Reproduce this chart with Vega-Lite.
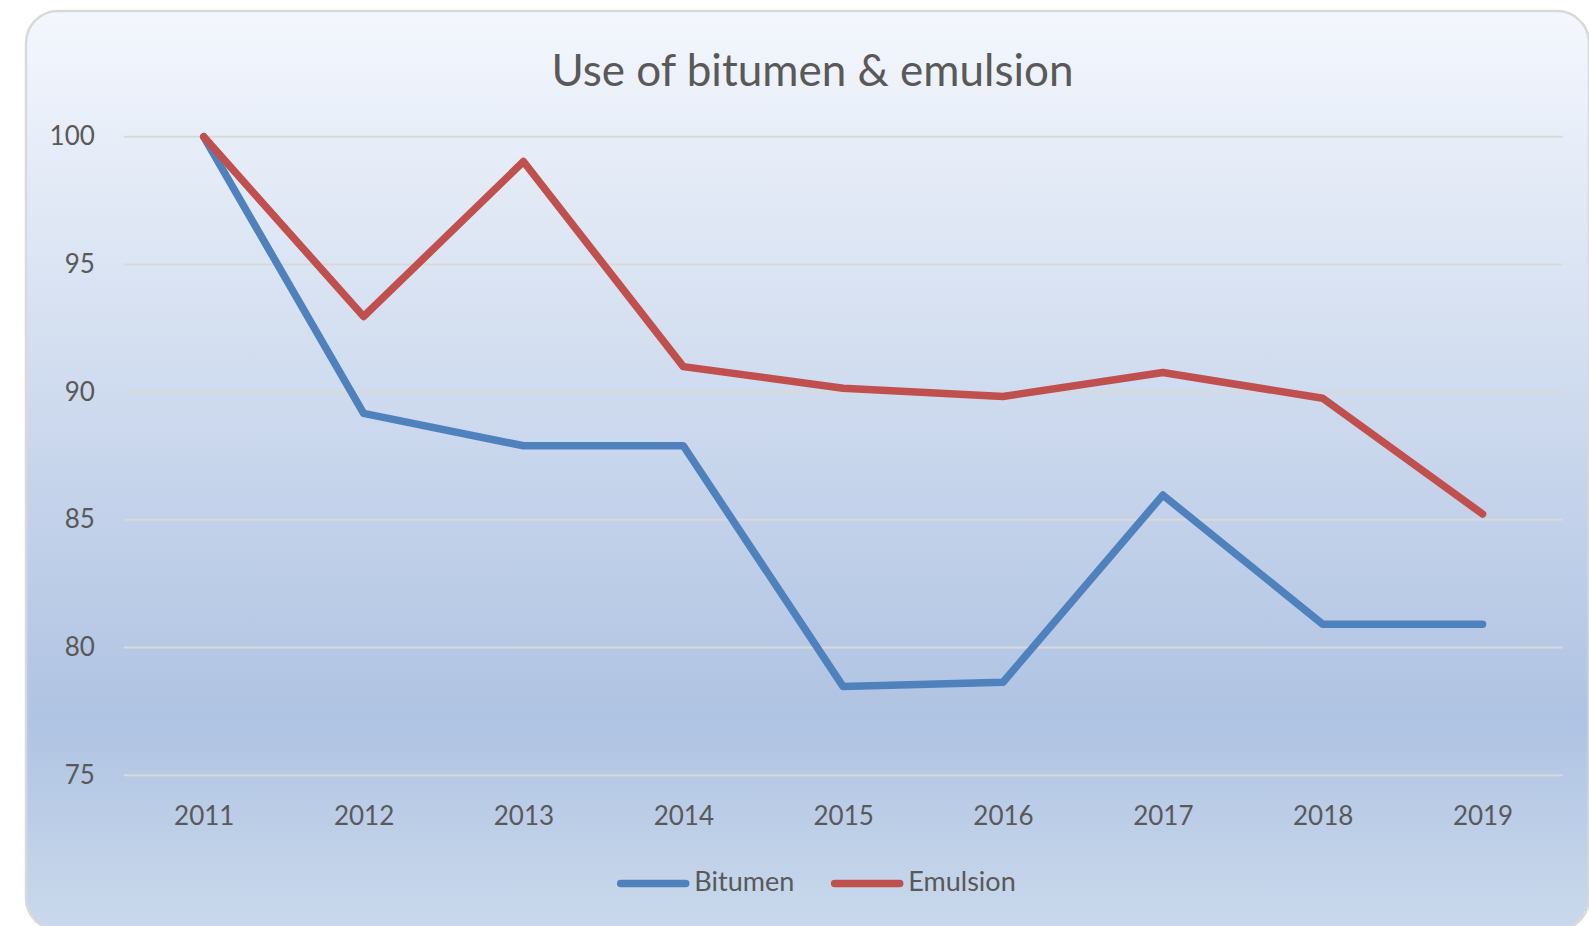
{
  "$schema": "https://vega.github.io/schema/vega-lite/v6.json",
  "width": 1563,
  "height": 919,
  "autosize": "none",
  "padding": {"left": 26, "top": 11, "right": 0, "bottom": 0},
  "background": "white",
  "config": {"view": {"stroke": null}, "font": "Lato", "axis": {"zindex": 1}},
  "title": {
    "text": "Use of bitumen & emulsion",
    "font": "Lato",
    "fontSize": 44,
    "fontWeight": "normal",
    "color": "#595959",
    "anchor": "middle",
    "frame": "group",
    "baseline": "alphabetic",
    "offset": -120,
    "dx": 5
  },
  "datasets": {
    "grid": [
      {"value": 75}, {"value": 80}, {"value": 85}, {"value": 90}, {"value": 95}, {"value": 100}
    ],
    "series": [
      {"year": 2011, "value": 100, "series": "Bitumen"},
      {"year": 2012, "value": 89.17, "series": "Bitumen"},
      {"year": 2013, "value": 87.9, "series": "Bitumen"},
      {"year": 2014, "value": 87.9, "series": "Bitumen"},
      {"year": 2015, "value": 78.47, "series": "Bitumen"},
      {"year": 2016, "value": 78.64, "series": "Bitumen"},
      {"year": 2017, "value": 85.97, "series": "Bitumen"},
      {"year": 2018, "value": 80.91, "series": "Bitumen"},
      {"year": 2019, "value": 80.91, "series": "Bitumen"},
      {"year": 2011, "value": 100, "series": "Emulsion"},
      {"year": 2012, "value": 92.96, "series": "Emulsion"},
      {"year": 2013, "value": 99.03, "series": "Emulsion"},
      {"year": 2014, "value": 91.0, "series": "Emulsion"},
      {"year": 2015, "value": 90.15, "series": "Emulsion"},
      {"year": 2016, "value": 89.83, "series": "Emulsion"},
      {"year": 2017, "value": 90.77, "series": "Emulsion"},
      {"year": 2018, "value": 89.76, "series": "Emulsion"},
      {"year": 2019, "value": 85.23, "series": "Emulsion"}
    ]
  },
  "layer": [
    {
      "data": {"values": [{}]},
      "mark": {
        "type": "rect",
        "fill": {
          "gradient": "linear",
          "x1": 0, "y1": 0, "x2": 0, "y2": 1,
          "stops": [
            {"offset": 0, "color": "#F4F7FD"},
            {"offset": 0.77, "color": "#AFC3E2"},
            {"offset": 1, "color": "#CAD9EC"}
          ]
        },
        "stroke": "#D9D9D9",
        "strokeWidth": 2.5,
        "cornerRadius": 32
      },
      "encoding": {}
    },
    {
      "data": {"name": "grid"},
      "mark": {"type": "rule", "color": "#D9D9D9", "strokeWidth": 2},
      "encoding": {
        "y": {
          "field": "value",
          "type": "quantitative",
          "scale": {"domain": [68.938, 104.926], "nice": false, "zero": false},
          "axis": {
            "title": null,
            "values": [75, 80, 85, 90, 95, 100],
            "domain": false,
            "ticks": false,
            "grid": false,
            "offset": -97.8,
            "labelPadding": 29.5,
            "labelFont": "Lato",
            "labelFontSize": 26,
            "labelColor": "#595959",
            "labelBaseline": "middle",
            "labelFlush": false,
            "labelOverlap": false,
            "zindex": 1
          }
        },
        "x": {
          "datum": 2010.5,
          "type": "quantitative",
          "scale": {"domain": [2009.888, 2019.666], "nice": false, "zero": false},
          "axis": {
            "title": null,
            "values": [2011, 2012, 2013, 2014, 2015, 2016, 2017, 2018, 2019],
            "format": "d",
            "domain": false,
            "ticks": false,
            "grid": false,
            "offset": -154.8,
            "labelPadding": 28,
            "labelFont": "Lato",
            "labelFontSize": 26,
            "labelColor": "#595959",
            "labelFlush": false,
            "labelOverlap": false,
            "zindex": 1
          }
        },
        "x2": {"datum": 2019.5}
      }
    },
    {
      "data": {"name": "series"},
      "mark": {"type": "line", "strokeWidth": 7.5, "strokeCap": "round", "strokeJoin": "round"},
      "encoding": {
        "x": {
          "field": "year",
          "type": "quantitative",
          "scale": {"domain": [2009.888, 2019.666], "nice": false, "zero": false},
          "axis": {
            "title": null,
            "values": [2011, 2012, 2013, 2014, 2015, 2016, 2017, 2018, 2019],
            "format": "d",
            "domain": false,
            "ticks": false,
            "grid": false,
            "offset": -154.8,
            "labelPadding": 28,
            "labelFont": "Lato",
            "labelFontSize": 26,
            "labelColor": "#595959",
            "labelFlush": false,
            "labelOverlap": false,
            "zindex": 1
          }
        },
        "y": {
          "field": "value",
          "type": "quantitative",
          "scale": {"domain": [68.938, 104.926], "nice": false, "zero": false},
          "axis": {
            "title": null,
            "values": [75, 80, 85, 90, 95, 100],
            "domain": false,
            "ticks": false,
            "grid": false,
            "offset": -97.8,
            "labelPadding": 29.5,
            "labelFont": "Lato",
            "labelFontSize": 26,
            "labelColor": "#595959",
            "labelBaseline": "middle",
            "labelFlush": false,
            "labelOverlap": false,
            "zindex": 1
          }
        },
        "color": {
          "field": "series",
          "type": "nominal",
          "scale": {"domain": ["Bitumen", "Emulsion"], "range": ["#4F81BD", "#C0504D"]},
          "legend": {
            "title": null,
            "orient": "none",
            "direction": "horizontal",
            "legendX": 590.7,
            "legendY": 835.7,
            "padding": 0,
            "symbolType": "stroke",
            "symbolSize": 4225,
            "symbolStrokeWidth": 7.5,
            "labelFont": "Lato",
            "labelFontSize": 27,
            "labelColor": "#595959",
            "labelOffset": 4.6,
            "columnPadding": 25,
            "encode": {"symbols": {"update": {"strokeCap": {"value": "round"}}}}
          }
        }
      }
    }
  ]
}
